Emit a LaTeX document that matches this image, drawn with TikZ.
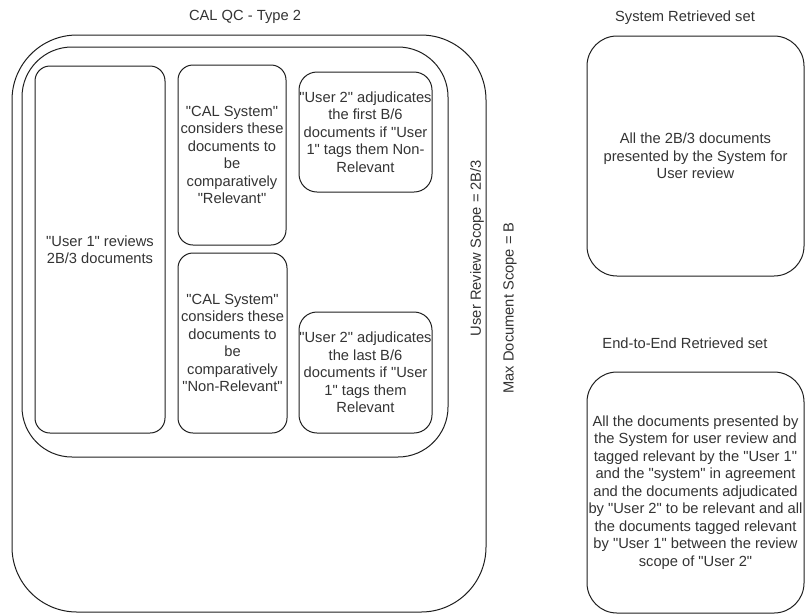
\documentclass[tikz,border=0pt]{standalone}
\usepackage{fontspec}
\setmainfont{Liberation Sans}[Ligatures=TeXOff]
\definecolor{inkline}{HTML}{1E1E1E}
\definecolor{inktext}{HTML}{333333}
\begin{document}
\begin{tikzpicture}[x=1pt,y=-1pt,
  every node/.style={font=\fontsize{14.7}{17.5}\selectfont, text=inktext, align=center, inner sep=0pt},
  box/.style={draw=inkline, line width=1pt, rounded corners=#1},
  box/.default=15pt,
  caption/.style={}]
\useasboundingbox (0,0) rectangle (805,614);

% outer scopes
\node[box=65pt, minimum width=474pt, minimum height=577pt] (maxscope) at (249,323.5) {};
\node[box=50pt, minimum width=426pt, minimum height=410pt] (userscope) at (235,252) {};

\node[caption] (title) at (245,17) {CAL QC - Type 2};
\node[caption, rotate=90] (userlbl) at (477,248) {User Review Scope = 2B/3};
\node[caption, rotate=90] (maxlbl) at (510,308) {Max Document Scope = B};

% review boxes
\node[box, minimum width=130pt, minimum height=367pt] (user1) at (100,249.5)
  {"User 1" reviews\\2B/3 documents};
\node[box, minimum width=108pt, minimum height=180pt] (calrel) at (232,155)
  {"CAL System"\\considers these\\documents to\\be\\comparatively\\"Relevant"};
\node[box, minimum width=109pt, minimum height=180pt] (calnon) at (232.5,343)
  {"CAL System"\\considers these\\documents to\\be\\comparatively\\"Non-Relevant"};
\node[box=18pt, minimum width=133pt, minimum height=120pt] (userfirst) at (365.5,132)
  {"User 2" adjudicates\\the first B/6\\documents if "User\\1" tags them Non-\\Relevant};
\node[box=18pt, minimum width=133pt, minimum height=121pt] (userlast) at (365.5,372.5)
  {"User 2" adjudicates\\the last B/6\\documents if "User\\1" tags them\\Relevant};

% retrieved sets
\node[caption] (systitle) at (685,18) {System Retrieved set};
\node[box=30pt, minimum width=217pt, minimum height=240pt] (sysset) at (695.5,156)
  {All the 2B/3 documents\\presented by the System for\\User review};
\node[caption] (e2etitle) at (685,343) {End-to-End Retrieved set};
\node[box=30pt, minimum width=217pt, minimum height=241pt] (e2eset) at (695.5,492.5)
  {All the documents presented by\\the System for user review and\\tagged relevant by the "User 1"\\and the "system" in agreement\\and the documents adjudicated\\by "User 2" to be relevant and all\\the documents tagged relevant\\by "User 1" between the review\\scope of "User 2"};
\end{tikzpicture}
\end{document}
